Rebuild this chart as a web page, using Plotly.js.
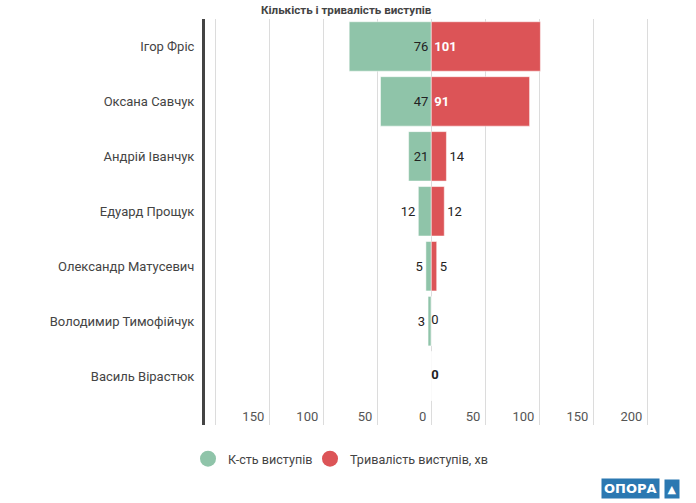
<!DOCTYPE html>
<html><head><meta charset="utf-8">
<script src="https://cdn.plot.ly/plotly-3.0.1.min.js"></script>
<style>html,body{margin:0;padding:0;background:#fff}#chart{width:696px;height:503px}</style>
</head><body><div id="chart"></div>
<script>
const names = ["Ігор Фріс","Оксана Савчук","Андрій Іванчук","Едуард Прощук","Олександр Матусевич","Володимир Тимофійчук","Василь Вірастюк"];
const counts = [76,47,21,12,5,3,0];
const minutes = [101,91,14,12,5,0,0];
const tickVals = [-200,-150,-100,-50,0,50,100,150,200];
const tickText = ["","150","100","50","0","50","100","150","200"];
const seriesNames = ["К-сть виступів","Тривалість виступів, хв"];

const green = "#8fc4a9", red = "#dc5457";
const font = "Roboto, 'Noto Sans', sans-serif";

const redInside = minutes.map(v => v >= 30);
const zeroIdx = minutes.map((v,i)=>i).filter(i=>minutes[i]===0);
const traces = [
  {type:"bar", orientation:"h", y:names, x:counts.map(v=>-v),
   text:counts.map(v=> v>0 ? String(v) : ""), textposition:"auto", insidetextanchor:"start",
   textfont:{family:font,size:13,color:"#222"}, textangle:0, constraintext:"none",
   marker:{color:green,line:{color:"rgba(255,255,255,0.5)",width:1}},
   showlegend:false, hoverinfo:"skip", cliponaxis:false},
  {type:"bar", orientation:"h", y:names, x:minutes,
   text:minutes.map(v=> v>0 ? String(v) : ""), textposition:"auto", insidetextanchor:"start",
   textfont:{family:font,size:13,color:redInside.map(b=>b?"#fff":"#222"),
             weight:redInside.map(b=> b ? 700 : 400)},
   textangle:0, constraintext:"none",
   marker:{color:red,line:{color:"rgba(255,255,255,0.5)",width:1}},
   showlegend:false, hoverinfo:"skip", cliponaxis:false},
  {type:"scatter", mode:"text", x:zeroIdx.map(i=>minutes[i]), y:zeroIdx.map(i=>names[i]),
   text:zeroIdx.map(i=>String(minutes[i])), textposition:"middle right",
   textfont:{family:font,size:13,color:"#222",weight:zeroIdx.map(i=> i===names.length-1 ? 700 : 400)},
   showlegend:false, hoverinfo:"skip", cliponaxis:false},
  {type:"scatter", mode:"markers", x:[null], y:[null], name:seriesNames[0], legend:"legend",
   marker:{color:green,size:16,symbol:"circle"}, showlegend:true},
  {type:"scatter", mode:"markers", x:[null], y:[null], name:seriesNames[1], legend:"legend2",
   marker:{color:red,size:16,symbol:"circle"}, showlegend:true}
];

const legendBase = {orientation:"h", xref:"container", xanchor:"left", yref:"container", y:1-459/503, yanchor:"middle",
          font:{family:font,size:12.6,color:"#444"}, itemsizing:"trace", bgcolor:"rgba(0,0,0,0)"};

const layout = {
  width:696, height:503,
  margin:{l:205, r:41, t:19, b:77.5},
  paper_bgcolor:"#fff", plot_bgcolor:"#fff",
  font:{family:font, size:13, color:"#444"},
  barmode:"relative", bargap:0.1,
  title:{text:"<b>Кількість і тривалість виступів</b>", font:{family:font,size:11.6,color:"#444"},
         xref:"container", x:261/696, xanchor:"left", yref:"container", y:1-10/503, yanchor:"middle"},
  xaxis:{range:[-209.5,207.1], tickvals:tickVals, ticktext:tickText, ticklabelposition:"inside left",
         ticklabelshift:-5, ticklabelstandoff:-5,
         showgrid:true, gridcolor:"#dcdcdc", gridwidth:1, zeroline:true, zerolinecolor:"#dcdcdc", zerolinewidth:1,
         ticks:"", showline:false, fixedrange:true, tickfont:{family:font,size:13,color:"#555"}},
  yaxis:{type:"category", range:[6.89,-0.5], showgrid:false, zeroline:false,
         showline:true, linecolor:"#444", linewidth:3, ticks:"", ticklabelstandoff:5,
         tickfont:{family:font,size:13,color:"#444"}, fixedrange:true},
  legend:Object.assign({}, legendBase, {x:188/696}),
  legend2:Object.assign({}, legendBase, {x:310/696}),
  annotations:[
    {text:"<b>ОПОРА</b>", xref:"paper", yref:"paper", x:(630.5-205)/450, y:-(489.5-425.5)/406.5, xanchor:"center", yanchor:"middle",
     showarrow:false, bgcolor:"#2b78b1", font:{family:"'DejaVu Sans', sans-serif", size:13, color:"#fff"}, borderpad:2},
    {text:"<b>▲</b>", xref:"paper", yref:"paper", x:(671.5-205)/450, y:-(489.5-425.5)/406.5, xanchor:"center", yanchor:"middle",
     showarrow:false, bgcolor:"#2b78b1", font:{family:"'DejaVu Sans', sans-serif", size:11, color:"#fff"}, borderpad:2.5}
  ]
};
Plotly.newPlot("chart", traces, layout, {displayModeBar:false, staticPlot:true});
</script></body></html>
